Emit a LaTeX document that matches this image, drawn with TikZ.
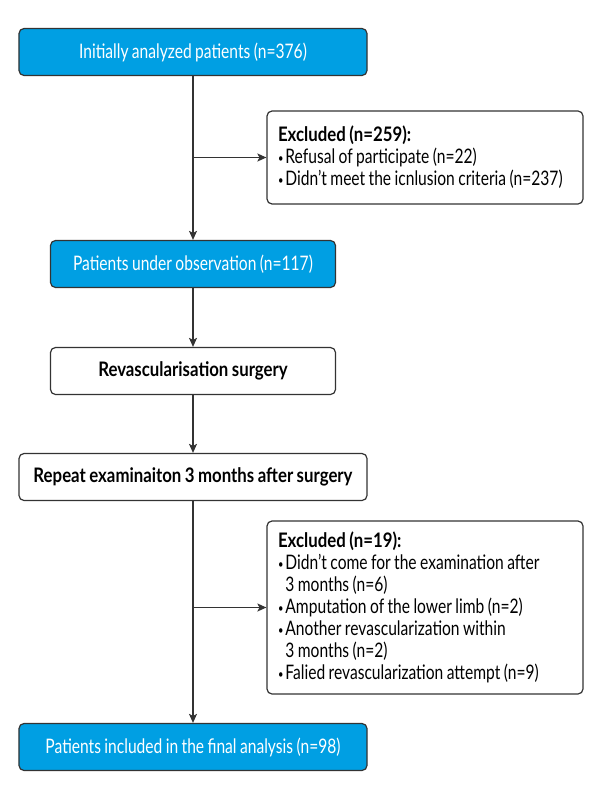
\documentclass[tikz,border=0pt]{standalone}
\usepackage{fontspec}
\setmainfont{Lato}[FakeStretch=0.78, WordSpace=0.85, BoldFeatures={FakeStretch=0.84}]
\usetikzlibrary{arrows.meta}
\definecolor{boxblue}{HTML}{009FE3}
\definecolor{linegray}{HTML}{333333}
\newcommand\bul{\raisebox{1.5bp}{\fontsize{12bp}{12bp}\selectfont•}\hspace{2bp}}
\tikzset{
  flow/.style={draw=linegray, line width=1.2bp, rounded corners=5bp, inner sep=0pt,
    minimum height=47bp, font=\fontsize{20bp}{22bp}\selectfont},
  bluebox/.style={flow, fill=boxblue, text=white},
  whitebox/.style={flow, fill=white, font=\fontsize{20bp}{22bp}\selectfont\bfseries},
  exclbox/.style={flow, fill=white, align=flush left, text width=294bp, inner xsep=11bp},
  conn/.style={draw=linegray, line width=1.2bp, -{Stealth[length=9bp,width=8bp,inset=2bp]}}
}

\begin{document}
\begin{tikzpicture}[x=1bp,y=-1bp]
    \useasboundingbox (0,0) rectangle (600,800);
    \node[bluebox, minimum width=348bp] (init) at (193,52) {Initially analyzed patients (n=376)};
    \node[exclbox, minimum height=93bp] (excl1) at (425,157.5) {\textbf{Excluded (n=259):}\\
      \bul Refusal of participate (n=22)\\
      \mbox{\bul Didn’t meet the icnlusion criteria (n=237)}};
    \node[bluebox, minimum width=285bp] (obs) at (193,264) {Patients under observation (n=117)};
    \node[whitebox, minimum width=285bp] (revasc) at (193,371) {Revascularisation surgery};
    \node[whitebox, minimum width=348bp] (repeat) at (193,477) {Repeat examinaiton 3 months after surgery};
    \node[exclbox, minimum height=173bp] (excl2) at (425,607.5) {\textbf{Excluded (n=19):}\\
      \bul Didn’t come for the examination after\\
      \phantom{\bul}3 months (n=6)\\
      \bul Amputation of the lower limb (n=2)\\
      \bul Another revascularization within\\
      \phantom{\bul}3 months (n=2)\\
      \bul Falied revascularization attempt (n=9)};
    \node[bluebox, minimum width=348bp] (final) at (193,747) {Patients included in the final analysis (n=98)};
    % main chain
    \foreach \a/\b in {init/obs,obs/revasc,revasc/repeat,repeat/final}
      \draw[conn] (\a) -- (\b);
    % exclusions
    \draw[conn] (init |- excl1) -- (excl1);
    \draw[conn] (repeat |- excl2) -- (excl2);
\end{tikzpicture}
\end{document}
